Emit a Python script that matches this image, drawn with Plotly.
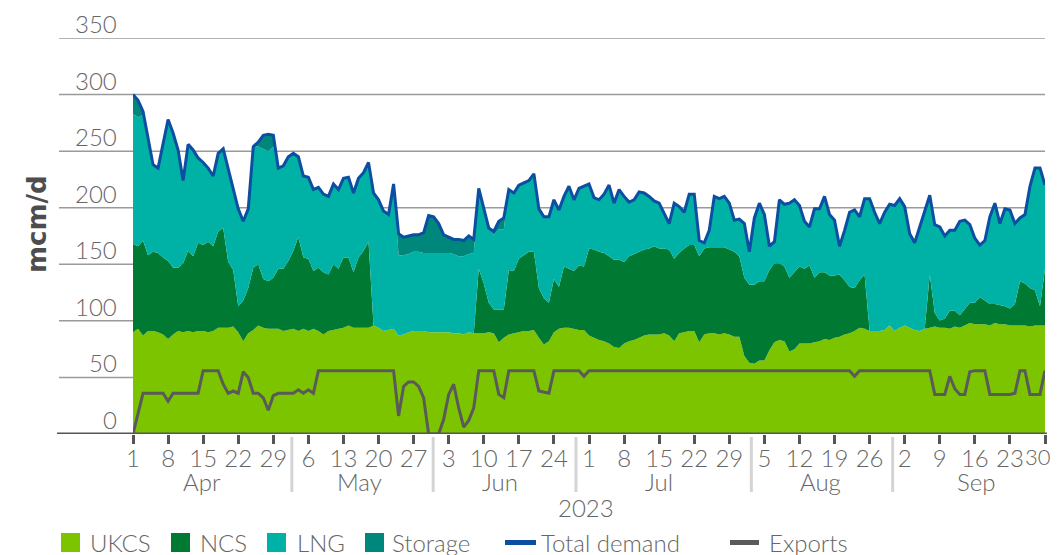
import pandas as pd
import plotly.graph_objects as go

# ---------------- data (mcm/d), daily 1 Apr – 30 Sep 2023 ----------------
dates = pd.date_range("2023-04-01", "2023-09-30", freq="D")

ukcs = [
    90, 93, 87, 91, 91, 90, 88, 84, 88, 91,
    90, 91, 90, 91, 91, 90, 91, 94, 94, 94,
    95, 90, 82, 89, 92, 96, 94, 93, 93, 93,
    91, 92, 93, 91, 93, 91, 93, 91, 88, 91,
    92, 93, 94, 96, 94, 94, 94, 94, 96, 94,
    91, 92, 93, 87, 88, 90, 91, 91, 91, 90,
    90, 90, 90, 90, 89, 89, 88, 90, 89, 89,
    89, 90, 89, 81, 85, 88, 89, 90, 91, 91,
    92, 85, 79, 82, 90, 93, 94, 94, 93, 92,
    92, 87, 85, 83, 82, 80, 77, 76, 80, 82,
    83, 85, 87, 88, 88, 88, 89, 87, 82, 89,
    90, 91, 91, 81, 88, 89, 89, 88, 89, 88,
    86, 86, 69, 63, 62, 65, 65, 74, 81, 83,
    82, 73, 75, 80, 80, 80, 81, 82, 84, 83,
    85, 86, 88, 89, 91, 94, 93, 91, 91, 91,
    92, 96, 91, 94, 96, 94, 92, 91, 93, 94,
    95, 94, 94, 93, 95, 94, 96, 98, 97, 97,
    97, 96, 98, 97, 97, 96, 96, 96, 96, 95,
    96, 96, 96,
]

ncs = [
    78, 73, 84, 67, 70, 70, 68, 69, 59, 56,
    61, 71, 67, 78, 76, 80, 75, 85, 88, 58,
    50, 23, 36, 40, 55, 54, 43, 42, 45, 53,
    55, 61, 69, 83, 63, 64, 51, 56, 55, 50,
    58, 53, 62, 60, 49, 62, 68, 76, 0, 0,
    0, 0, 0, 0, 0, 0, 0, 0, 0, 0,
    0, 0, 0, 0, 0, 0, 0, 0, 0, 57,
    44, 26, 21, 29, 25, 57, 55, 65, 67, 70,
    69, 44, 41, 34, 47, 37, 54, 52, 51, 57,
    56, 77, 78, 78, 78, 77, 77, 78, 72, 75,
    76, 76, 76, 76, 78, 76, 75, 76, 73, 71,
    74, 76, 76, 76, 76, 76, 76, 77, 76, 75,
    75, 71, 69, 69, 70, 70, 70, 71, 70, 68,
    66, 65, 68, 68, 66, 69, 57, 61, 59, 57,
    55, 55, 48, 41, 38, 42, 48, 0, 0, 0,
    0, 0, 0, 0, 0, 0, 0, 0, 0, 47,
    12, 6, 8, 16, 14, 11, 15, 18, 19, 24,
    21, 19, 17, 17, 16, 15, 19, 39, 37, 34,
    31, 17, 50,
]

lng = [
    115, 114, 111, 104, 77, 75, 100, 122, 119, 104,
    73, 94, 94, 75, 73, 65, 62, 69, 70, 82,
    71, 86, 70, 70, 107, 104, 115, 115, 116, 89,
    91, 92, 86, 71, 72, 72, 72, 71, 69, 69,
    71, 70, 70, 71, 70, 70, 69, 70, 117, 113,
    106, 102, 128, 71, 70, 69, 70, 70, 69, 70,
    70, 70, 70, 70, 70, 68, 69, 69, 71, 71,
    66, 66, 66, 71, 71, 71, 69, 65, 64, 63,
    69, 70, 72, 76, 70, 68, 62, 73, 63, 68,
    71, 57, 46, 46, 52, 63, 50, 62, 58, 48,
    48, 53, 50, 46, 40, 40, 31, 23, 49, 41,
    32, 45, 45, 14, 5, 15, 45, 43, 45, 41,
    28, 33, 48, 29, 59, 69, 59, 21, 19, 56,
    55, 66, 64, 54, 42, 34, 61, 56, 67, 54,
    49, 25, 44, 66, 69, 56, 67, 117, 105, 95,
    104, 107, 111, 114, 105, 83, 77, 92, 105, 70,
    78, 83, 73, 71, 71, 83, 78, 69, 57, 46,
    53, 77, 89, 72, 86, 87, 71, 56, 61, 90,
    108, 122, 74,
]

storage = [
    17, 15, 3, 0, 0, 0, 0, 3, 0, 0,
    0, 0, 0, 0, 0, 0, 0, 0, 0, 0,
    0, 0, 0, 0, 0, 4, 12, 15, 10, 0,
    0, 0, 0, 0, 0, 0, 0, 0, 0, 0,
    0, 0, 0, 0, 0, 0, 0, 0, 0, 0,
    0, 0, 0, 19, 16, 16, 15, 15, 18, 33,
    32, 26, 16, 14, 13, 15, 14, 16, 12, 0,
    0, 0, 3, 7, 10, 0, 0, 0, 0, 0,
    0, 0, 0, 0, 0, 0, 0, 0, 0, 0,
    0, 0, 0, 0, 0, 0, 0, 0, 0, 0,
    0, 0, 0, 0, 0, 0, 0, 0, 0, 0,
    0, 0, 0, 0, 0, 0, 0, 0, 0, 0,
    0, 0, 0, 0, 0, 0, 0, 0, 0, 0,
    0, 0, 0, 0, 0, 0, 0, 0, 0, 0,
    0, 0, 0, 0, 0, 0, 0, 0, 0, 0,
    0, 0, 0, 0, 0, 0, 0, 0, 0, 0,
    0, 0, 0, 0, 0, 0, 0, 0, 0, 0,
    0, 0, 0, 0, 0, 0, 0, 0, 0, 0,
    0, 0, 0,
]

total_demand = [
    300, 295, 285, 262, 238, 235, 256, 278, 266, 251,
    224, 256, 251, 244, 240, 235, 228, 248, 252, 234,
    216, 199, 188, 199, 254, 258, 264, 265, 264, 235,
    237, 245, 248, 245, 228, 227, 216, 218, 212, 210,
    221, 216, 226, 227, 213, 226, 231, 240, 213, 207,
    197, 194, 221, 177, 174, 175, 176, 176, 178, 193,
    192, 186, 176, 174, 172, 172, 171, 175, 172, 217,
    199, 182, 179, 188, 191, 216, 213, 220, 222, 224,
    230, 199, 192, 192, 207, 198, 210, 219, 207, 217,
    219, 221, 209, 207, 212, 220, 204, 216, 210, 205,
    207, 214, 213, 210, 206, 204, 195, 186, 204, 201,
    196, 212, 212, 171, 169, 180, 210, 208, 210, 204,
    189, 190, 186, 161, 191, 204, 194, 166, 170, 207,
    203, 204, 207, 202, 188, 183, 199, 199, 210, 194,
    189, 166, 180, 196, 198, 192, 208, 208, 196, 186,
    196, 203, 202, 208, 201, 177, 169, 183, 198, 211,
    185, 183, 175, 180, 180, 188, 189, 185, 173, 167,
    171, 192, 204, 186, 199, 198, 186, 191, 194, 219,
    235, 235, 220,
]

exports = [
    0, 18, 36, 36, 36, 36, 36, 29, 36, 36,
    36, 36, 36, 36, 56, 56, 56, 56, 44, 36,
    38, 36, 55, 50, 36, 36, 32, 21, 34, 36,
    36, 36, 36, 39, 36, 39, 36, 56, 56, 56,
    56, 56, 56, 56, 56, 56, 56, 56, 56, 56,
    56, 56, 56, 16, 42, 46, 46, 42, 32, 0,
    0, 0, 13, 35, 44, 23, 6, 12, 23, 56,
    56, 56, 56, 35, 32, 56, 56, 56, 56, 56,
    56, 38, 37, 36, 56, 56, 56, 56, 56, 56,
    51, 56, 56, 56, 56, 56, 56, 56, 56, 56,
    56, 56, 56, 56, 56, 56, 56, 56, 56, 56,
    56, 56, 56, 56, 56, 56, 56, 56, 56, 56,
    56, 56, 56, 56, 56, 56, 56, 56, 56, 56,
    56, 56, 56, 56, 56, 56, 56, 56, 56, 56,
    56, 56, 56, 56, 51, 56, 56, 56, 56, 56,
    56, 56, 56, 56, 56, 56, 56, 56, 56, 56,
    35, 35, 35, 51, 40, 35, 35, 55, 56, 56,
    56, 35, 35, 35, 35, 35, 36, 56, 56, 35,
    35, 35, 56,
]

x_tick_labels = ["1", "8", "15", "22", "29", "6", "13", "20", "27", "3", "10", "17", "24",
                 "1", "8", "15", "22", "29", "5", "12", "19", "26", "2", "9", "16", "23", "30"]
month_labels = ["Apr", "May", "Jun", "Jul", "Aug", "Sep"]
year_label = "2023"
y_tick_values = [0, 50, 100, 150, 200, 250, 300, 350]
y_title = "mcm/d"

series_names = ["UKCS", "NCS", "LNG", "Storage", "Total demand", "Exports"]

# ---------------- styling ----------------
C_UKCS = "#7DC400"
C_NCS = "#007A33"
C_LNG = "#00B2A5"
C_STO = "#00877B"
C_TOT = "#0B4EA2"
C_EXP = "#5A5A5A"
TXT = "#666666"
FONT = "Lato"

# the page body adds an 8px margin on every side, so the figure is drawn smaller
OFF = 8
W, H = 1061 - 2 * OFF, 555 - OFF
PLOT_L, PLOT_R, PLOT_T, PLOT_B = 133, 1045, 38, 434   # page pixels
L, R, T, B = PLOT_L - OFF, (W + OFF) - PLOT_R, PLOT_T - OFF, 555 - PLOT_B
PW, PH = PLOT_R - PLOT_L, PLOT_B - PLOT_T


def px_x(p):
    return (p - PLOT_L) / PW


def px_y(p):
    return (PLOT_B - p) / PH


x_dates = [d.strftime("%Y-%m-%d") for d in dates]
start = dates[0]


def day_pos(off):
    return (start + pd.Timedelta(days=off)).strftime("%Y-%m-%d %H:%M")


fig = go.Figure()
for name, vals, col in [("UKCS", ukcs, C_UKCS), ("NCS", ncs, C_NCS),
                        ("LNG", lng, C_LNG), ("Storage", storage, C_STO)]:
    fig.add_trace(go.Scatter(x=x_dates, y=vals, name=name, stackgroup="one",
                             mode="lines", line=dict(width=0, color=col),
                             fillcolor=col, hoverinfo="skip"))
fig.add_trace(go.Scatter(x=x_dates, y=total_demand, name="Total demand", mode="lines",
                         line=dict(color=C_TOT, width=3), hoverinfo="skip"))
fig.add_trace(go.Scatter(x=x_dates, y=exports, name="Exports", mode="lines",
                         line=dict(color=C_EXP, width=3), hoverinfo="skip"))

shapes = []
annotations = []
# horizontal grid lines (extend left of the plot area)
for v in y_tick_values[1:]:
    shapes.append(dict(type="line", xref="paper", yref="y", x0=px_x(59), x1=1, y0=v, y1=v,
                       line=dict(color="#9a9a9a", width=1.5), layer="below"))

# baseline
shapes.append(dict(type="line", xref="paper", yref="y", x0=px_x(57), x1=px_x(1047), y0=0, y1=0,
                   line=dict(color="#555555", width=3), layer="above"))

# y labels above grid lines
for v in y_tick_values:
    annotations.append(dict(text=str(v), xref="paper", yref="y", x=px_x(119), y=v,
                            xanchor="right", yanchor="bottom", yshift=-2, showarrow=False,
                            font=dict(family=FONT, size=24, color=TXT, weight=300)))

# last day label sits at the right edge of the figure (kept inside the page)
annotations.append(dict(text=x_tick_labels[-1], xref="paper", yref="paper", x=px_x(1053),
                        y=px_y(441), xanchor="right", yanchor="top", showarrow=False,
                        font=dict(family=FONT, size=22, color=TXT, weight=300)))

# month separators
sep_offsets = [31.7, 59.9, 88.4, 123.4, 151.6]
for off in sep_offsets:
    shapes.append(dict(type="line", xref="x", yref="paper", x0=day_pos(off), x1=day_pos(off),
                       y0=px_y(437), y1=px_y(492), line=dict(color="#d4d4d4", width=3)))

month_offsets = [13.8, 45.3, 73.3, 104.9, 137.1, 168.3]
for m, off in zip(month_labels, month_offsets):
    annotations.append(dict(text=m, xref="x", yref="paper", x=day_pos(off), y=px_y(465),
                            xanchor="center", yanchor="top", showarrow=False,
                            font=dict(family=FONT, size=24, color=TXT, weight=300)))
annotations.append(dict(text=year_label, xref="paper", yref="paper", x=px_x(586), y=px_y(491),
                        xanchor="center", yanchor="top", showarrow=False,
                        font=dict(family=FONT, size=24, color=TXT, weight=300)))

# y axis title
annotations.append(dict(text=y_title, xref="paper", yref="paper", x=px_x(37), y=px_y(224),
                        xanchor="center", yanchor="middle", textangle=-90, showarrow=False,
                        font=dict(family="DejaVu Sans", size=26, color="#4d4d4d", weight="bold")))

# manual legend
leg_y = 542.5
sq = [(61, C_UKCS, 90), (171, C_NCS, 200), (267, C_LNG, 297), (365, C_STO, 392)]
for (x0, col, tx), name in zip(sq, series_names[:4]):
    shapes.append(dict(type="rect", xref="paper", yref="paper", x0=px_x(x0), x1=px_x(x0 + 19),
                       y0=px_y(leg_y - 9.5), y1=px_y(leg_y + 9.5), fillcolor=col,
                       line=dict(width=0)))
    annotations.append(dict(text=name, xref="paper", yref="paper", x=px_x(tx - 2), y=px_y(leg_y),
                            xanchor="left", yanchor="middle", showarrow=False,
                            font=dict(family=FONT, size=24, color=TXT, weight=300)))
for (x0, x1, col, tx), name in zip([(505, 536, C_TOT, 541), (730, 759, C_EXP, 769)], series_names[4:]):
    shapes.append(dict(type="line", xref="paper", yref="paper", x0=px_x(x0), x1=px_x(x1),
                       y0=px_y(leg_y), y1=px_y(leg_y), line=dict(color=col, width=5)))
    annotations.append(dict(text=name, xref="paper", yref="paper", x=px_x(tx - 2), y=px_y(leg_y),
                            xanchor="left", yanchor="middle", showarrow=False,
                            font=dict(family=FONT, size=24, color=TXT, weight=300)))

fig.update_layout(
    width=W, height=H,
    margin=dict(l=L, r=R, t=T, b=B, pad=0),
    paper_bgcolor="white", plot_bgcolor="white",
    showlegend=False,
    font=dict(family=FONT, size=24, color=TXT, weight=300),
    shapes=shapes, annotations=annotations,
    xaxis=dict(type="date", range=[x_dates[0], x_dates[-1]], tickmode="array",
               tickvals=x_dates[::7], ticktext=x_tick_labels[:-1] + [""],
               ticks="outside", ticklen=9, tickwidth=3, tickcolor="#555555",
               ticklabelstandoff=-6,
               showgrid=False, zeroline=False, showline=False,
               tickfont=dict(family=FONT, size=24, color=TXT, weight=300)),
    yaxis=dict(range=[0, 350], showgrid=False, zeroline=False, showline=False,
               showticklabels=False, ticks=""),
)

fig.write_html("out.html")
